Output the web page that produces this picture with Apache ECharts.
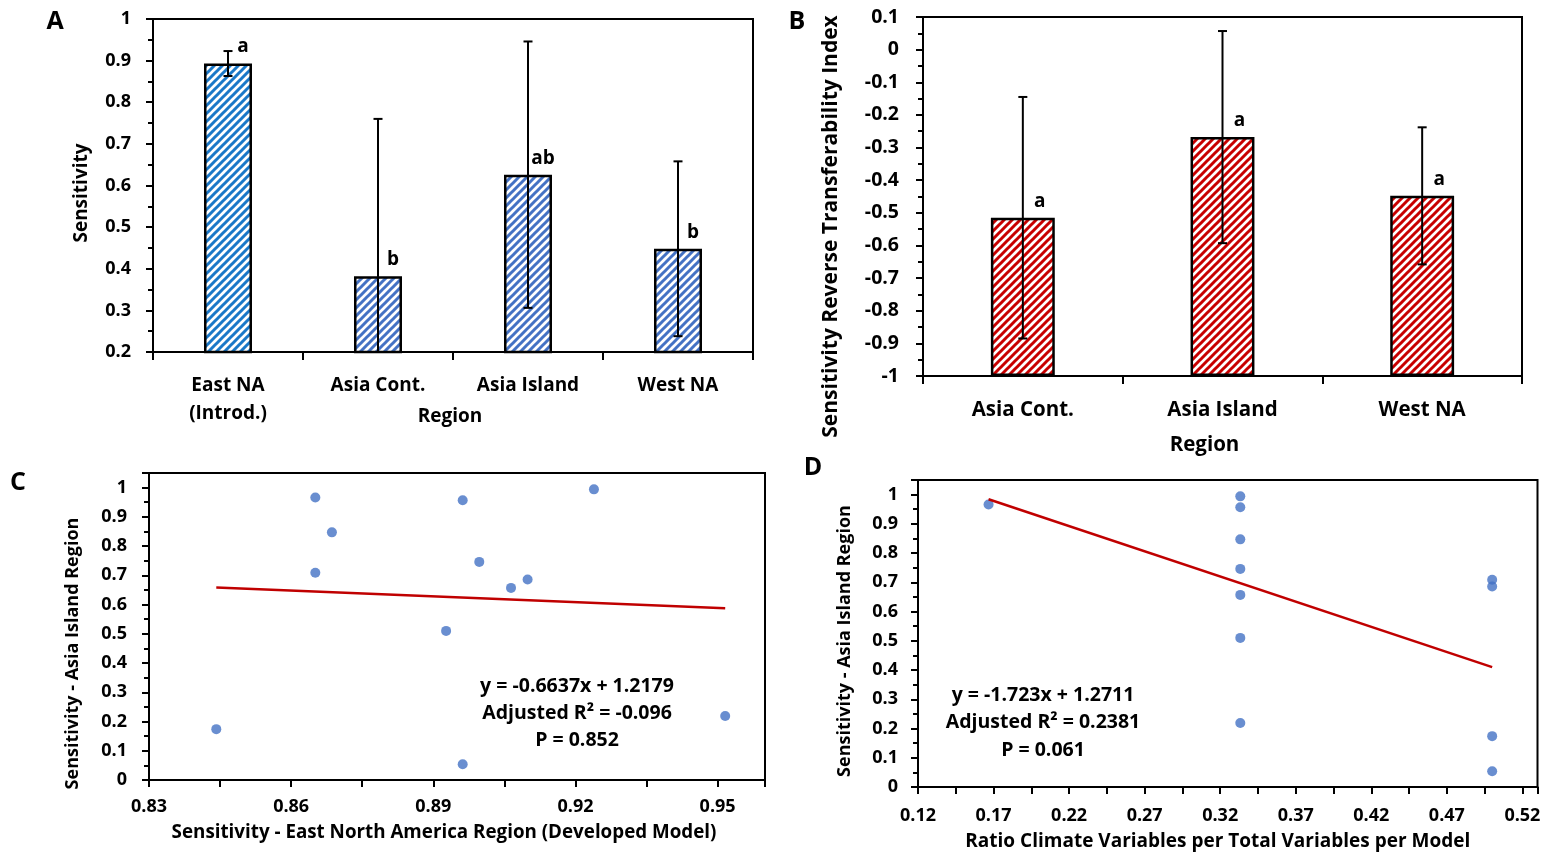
<!DOCTYPE html>
<html><head><meta charset="utf-8">
<script src="https://cdn.jsdelivr.net/npm/echarts@6/dist/echarts.min.js"></script>
<style>html,body{margin:0;padding:0;background:#fff}#c{width:1549px;height:854px}</style>
</head><body><div id="c"></div>
<script>
// ---------- Panel A ----------
const regionsA = ['East NA\n(Introd.)', 'Asia Cont.', 'Asia Island', 'West NA'];
const sensitivityA = [0.893, 0.382, 0.626, 0.448];
const sensitivityErrA = [0.03, 0.378, 0.32, 0.21];
const lettersA = ['a', 'b', 'ab', 'b'];
const yAxisA = [0.2, 1, 0.1];           // min, max, interval

// ---------- Panel B ----------
const regionsB = ['Asia Cont.', 'Asia Island', 'West NA'];
const transferB = [-0.515, -0.268, -0.448];
const transferErrB = [0.37, 0.325, 0.21];
const lettersB = ['a', 'a', 'a'];
const yAxisB = [-1, 0.1, 0.1];

// ---------- Panels C & D (12 models) ----------
const sensEastNA = [0.8651, 0.8686, 0.8651, 0.8962, 0.9239, 0.8997, 0.9099, 0.9064, 0.8927, 0.8442, 0.8962, 0.9516];
const sensAsiaIsland = [0.966, 0.847, 0.709, 0.957, 0.994, 0.746, 0.686, 0.657, 0.510, 0.174, 0.054, 0.219];
const ratioClimate = [0.1667, 0.3333, 0.5, 0.3333, 0.3333, 0.3333, 0.5, 0.3333, 0.3333, 0.5, 0.5, 0.3333];
const trendC = [[0.8442, 0.658], [0.9516, 0.587]];
const trendD = [[0.1667, 0.984], [0.5, 0.410]];
const xAxisC = [0.83, 0.96, 0.03];
const xAxisD = [0.12, 0.53, 0.05];
const yAxisCD = [0, 1.05, 0.1];
const eqC = ['y = -0.6637x + 1.2179', 'Adjusted R\u00B2 = -0.096', 'P = 0.852'];
const eqD = ['y = -1.723x + 1.2711', 'Adjusted R\u00B2 = 0.2381', 'P = 0.061'];

const FONT = '"Open Sans", Lato, "DejaVu Sans", sans-serif';
const BLACK = '#000';

function hatch(color) {
  const c = document.createElement('canvas');
  c.width = 8; c.height = 8;
  const g = c.getContext('2d');
  g.fillStyle = '#fff'; g.fillRect(0, 0, 8, 8);
  g.strokeStyle = color; g.lineWidth = 3;
  g.beginPath();
  g.moveTo(-2, 10); g.lineTo(10, -2);
  g.moveTo(-6, 6); g.lineTo(6, -6);
  g.moveTo(2, 14); g.lineTo(14, 2);
  g.stroke();
  return { image: c, repeat: 'repeat' };
}
const hatchA0 = hatch('#1a78c8');
const hatchA = hatch('#4472C4');
const hatchB = hatch('#C80000');

const fmt = v => String(+v.toFixed(3));
const lineStyle = { color: BLACK, width: 2 };
const txt = (size, extra) => Object.assign({ color: BLACK, fontFamily: FONT, fontWeight: 'bold', fontSize: size }, extra || {});

function valueAxis(gi, r, extra) {
  return Object.assign({
    type: 'value', gridIndex: gi, min: r[0], max: r[1], interval: r[2],
    splitLine: { show: false },
    axisLine: { show: true, onZero: false, lineStyle },
    axisTick: { show: true, length: 7, lineStyle },
    minorTick: { show: true, splitNumber: 2, length: 5, lineStyle },
    axisLabel: txt(18, { formatter: fmt, margin: 22 }),
    nameLocation: 'middle', nameMoveOverlap: false,
    nameTextStyle: txt(18)
  }, extra || {});
}
function catAxis(gi, data, extra) {
  return Object.assign({
    type: 'category', gridIndex: gi, data,
    axisLine: { show: true, onZero: false, lineStyle },
    axisTick: { show: true, length: 8, lineStyle },
    axisLabel: txt(19, { interval: 0, lineHeight: 28, margin: 20 }),
    nameLocation: 'middle', nameMoveOverlap: false,
    nameTextStyle: txt(19)
  }, extra || {});
}

function errRender(params, api) {
  const x = api.value(0), v = api.value(1), e = api.value(2);
  const t = api.coord([x, v + e]);
  const b = api.coord([x, v - e]);
  const cap = 4.5;
  const st = { stroke: BLACK, lineWidth: 2 };
  return { type: 'group', children: [
    { type: 'line', shape: { x1: t[0], y1: t[1], x2: b[0], y2: b[1] }, style: st },
    { type: 'line', shape: { x1: t[0] - cap, y1: t[1], x2: t[0] + cap, y2: t[1] }, style: st },
    { type: 'line', shape: { x1: b[0] - cap, y1: b[1], x2: b[0] + cap, y2: b[1] }, style: st }
  ]};
}

const gridBase = { show: true, borderColor: BLACK, borderWidth: 2, backgroundColor: 'transparent', containLabel: false };

function eqGraphic(lines, cx, y0, dy) {
  return lines.map((s, i) => ({
    type: 'text', x: cx, y: y0 + i * dy,
    style: { text: s, fill: BLACK, font: 'bold 19.5px ' + FONT, textAlign: 'center', textVerticalAlign: 'middle' }
  }));
}
function letter(s, x, y) {
  return { type: 'text', x, y, style: { text: s, fill: BLACK, font: 'bold 25px ' + FONT, textAlign: 'center', textVerticalAlign: 'middle' } };
}

const chart = echarts.init(document.getElementById('c'), null, { renderer: 'canvas' });
chart.setOption({
  animation: false,
  backgroundColor: '#fff',
  textStyle: { fontFamily: FONT },
  grid: [
    Object.assign({ left: 153, top: 19, width: 600, height: 333 }, gridBase),
    Object.assign({ left: 923, top: 17, width: 599, height: 359 }, gridBase),
    Object.assign({ left: 149, top: 473, width: 616, height: 307 }, gridBase),
    Object.assign({ left: 918, top: 480, width: 619.5, height: 307 }, gridBase)
  ],
  xAxis: [
    catAxis(0, regionsA, { name: 'Region', nameGap: 55, nameTextStyle: txt(19, { padding: [0, 6, 0, 0] }) }),
    catAxis(1, regionsB, { name: 'Region', nameGap: 59,
      axisLabel: txt(20.5, { interval: 0, margin: 24 }),
      nameTextStyle: txt(20.5, { padding: [0, 36, 0, 0] }) }),
    valueAxis(2, xAxisC, { name: 'Sensitivity - East North America Region (Developed Model)', nameGap: 43,
      minorTick: { show: true, splitNumber: 2, length: 7, lineStyle },
      axisLabel: txt(18, { formatter: fmt, margin: 18, showMaxLabel: false }),
      nameTextStyle: txt(18.8, { padding: [0, 26, 0, 0] }) }),
    valueAxis(3, xAxisD, { name: 'Ratio Climate Variables per Total Variables per Model', nameGap: 45,
      minorTick: { show: true, splitNumber: 2, length: 7, lineStyle },
      axisLabel: txt(18, { formatter: fmt, margin: 20, showMaxLabel: false }),
      nameTextStyle: txt(19, { padding: [0, 20, 0, 0] }) })
  ],
  yAxis: [
    valueAxis(0, yAxisA, { name: 'Sensitivity', nameGap: 62, nameTextStyle: txt(19, { padding: [0, 15, 0, 0] }) }),
    valueAxis(1, yAxisB, { name: 'Sensitivity Reverse Transferability Index', nameGap: 81, startValue: -1,
      axisLabel: txt(19.5, { formatter: fmt, margin: 24 }),
      nameTextStyle: txt(21, { padding: [0, 60, 0, 0] }) }),
    valueAxis(2, yAxisCD, { name: 'Sensitivity - Asia Island Region', nameGap: 67,
      axisLabel: txt(18, { formatter: fmt, margin: 22, showMaxLabel: false }),
      nameTextStyle: txt(18, { padding: [0, 54, 0, 0] }) }),
    valueAxis(3, yAxisCD, { name: 'Sensitivity - Asia Island Region', nameGap: 64,
      axisLabel: txt(18, { formatter: fmt, margin: 20, showMaxLabel: false }),
      nameTextStyle: txt(18, { padding: [0, 15, 0, 0] }) })
  ],
  series: [
    { type: 'bar', xAxisIndex: 0, yAxisIndex: 0, data: sensitivityA, barWidth: '32%',
      itemStyle: { color: p => (p.dataIndex === 0 ? hatchA0 : hatchA), borderColor: BLACK, borderWidth: 2.5 },
      label: Object.assign({ show: true, position: 'top', offset: [15, -2], formatter: p => lettersA[p.dataIndex] }, txt(19)) },
    { type: 'custom', xAxisIndex: 0, yAxisIndex: 0, clip: true, z: 5, renderItem: errRender,
      data: sensitivityA.map((v, i) => [i, v, sensitivityErrA[i]]) },
    { type: 'bar', xAxisIndex: 1, yAxisIndex: 1, data: transferB, barWidth: '32%',
      itemStyle: { color: hatchB, borderColor: BLACK, borderWidth: 2.5 },
      label: Object.assign({ show: true, position: 'top', offset: [17, -2], formatter: p => lettersB[p.dataIndex] }, txt(19)) },
    { type: 'custom', xAxisIndex: 1, yAxisIndex: 1, clip: true, z: 5, renderItem: errRender,
      data: transferB.map((v, i) => [i, v, transferErrB[i]]) },
    { type: 'scatter', xAxisIndex: 2, yAxisIndex: 2, symbolSize: 10, itemStyle: { color: '#4472C4' },
      data: sensEastNA.map((x, i) => [x, sensAsiaIsland[i]]) },
    { type: 'line', xAxisIndex: 2, yAxisIndex: 2, data: trendC, showSymbol: false, symbol: 'none',
      lineStyle: { color: '#C00000', width: 2.5 }, z: 1 },
    { type: 'scatter', xAxisIndex: 3, yAxisIndex: 3, symbolSize: 10, itemStyle: { color: '#4472C4' },
      data: ratioClimate.map((x, i) => [x, sensAsiaIsland[i]]) },
    { type: 'line', xAxisIndex: 3, yAxisIndex: 3, data: trendD, showSymbol: false, symbol: 'none',
      lineStyle: { color: '#C00000', width: 2.5 }, z: 3 }
  ],
  graphic: [
    letter('A', 55, 22), letter('B', 797, 22), letter('C', 18, 483), letter('D', 813, 468)
  ].concat(eqGraphic(eqC, 577, 686, 27), eqGraphic(eqD, 1043, 695, 27.5))
});
</script>
</body></html>
